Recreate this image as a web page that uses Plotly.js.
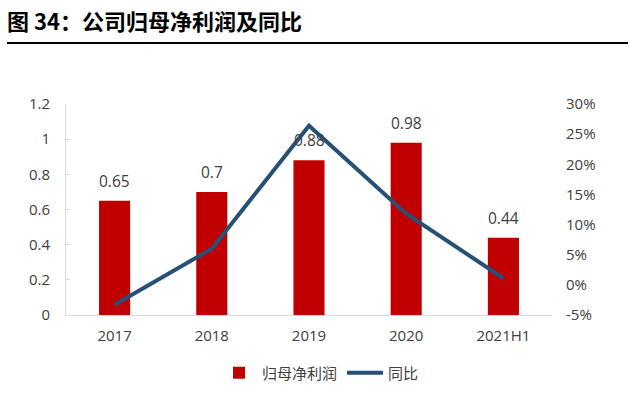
<!DOCTYPE html>
<html>
<head>
<meta charset="utf-8">
<script src="https://cdn.plot.ly/plotly-3.0.1.min.js"></script>
<style>html,body{margin:0;padding:0;background:#fff;}#chart{width:640px;height:410px;}</style>
</head>
<body>
<div id="chart"></div>
<script>
const categories = ['2017', '2018', '2019', '2020', '2021H1'];
const netProfit = [0.65, 0.7, 0.88, 0.98, 0.44];
const yoyGrowth = [-0.033, 0.06, 0.264, 0.118, 0.011];
const profitLabels = ['0.65', '0.7', '0.88', '0.98', '0.44'];
const leftTickVals = [0, 0.2, 0.4, 0.6, 0.8, 1, 1.2];
const leftTickText = ['0', '0.2', '0.4', '0.6', '0.8', '1', '1.2'];
const rightTickVals = [-0.05, 0, 0.05, 0.10, 0.15, 0.20, 0.25, 0.30];
const rightTickText = ['-5%', '0%', '5%', '10%', '15%', '20%', '25%', '30%'];
const seriesNames = ['归母净利润', '同比'];
const chartTitle = '图 34：公司归母净利润及同比';

const FONT = '"Open Sans", "Noto Sans CJK SC", sans-serif';
const TXT = '#404040';

const traces = [
  {
    type: 'bar', x: categories, y: netProfit, name: seriesNames[0],
    marker: {color: '#C00000'}, hoverinfo: 'none'
  },
  {
    type: 'scatter', mode: 'lines', x: categories, y: yoyGrowth, name: seriesNames[1],
    yaxis: 'y2', line: {color: '#275077', width: 4}, hoverinfo: 'none'
  }
];

const annotations = categories.map((c, i) => ({
  x: i, y: netProfit[i], xref: 'x', yref: 'y', text: profitLabels[i],
  showarrow: false, yshift: 20, font: {family: FONT, size: 15.5, color: TXT}
}));

const layout = {
  width: 640, height: 410,
  margin: {l: 66, r: 88, t: 104, b: 95},
  paper_bgcolor: '#fff', plot_bgcolor: '#fff',
  font: {family: FONT, size: 15, color: TXT},
  title: {
    text: '<b>' + chartTitle + '</b>',
    x: 7 / 640, xanchor: 'left', xref: 'container',
    y: 1 - 22 / 410, yanchor: 'middle', yref: 'container',
    font: {family: '"Noto Sans CJK SC", sans-serif', size: 22, color: '#000'}
  },
  bargap: 0.68,
  showlegend: true,
  legend: {
    orientation: 'h', xref: 'container', yref: 'container',
    x: 0.5, xanchor: 'center', y: 1 - 373 / 410, yanchor: 'middle',
    font: {family: FONT, size: 15, color: TXT}, traceorder: 'normal', itemwidth: 36
  },
  xaxis: {
    type: 'category', categoryarray: categories, range: [-0.5, categories.length - 0.5],
    showline: true, linecolor: '#d9d9d9', linewidth: 1,
    ticks: '', showgrid: false, zeroline: false, ticklabelstandoff: 7,
    tickfont: {family: FONT, size: 15, color: TXT}
  },
  yaxis: {
    range: [0, 1.2], tickmode: 'array', tickvals: leftTickVals, ticktext: leftTickText,
    showline: true, linecolor: '#d9d9d9', linewidth: 1,
    ticks: 'inside', ticklen: 4, tickcolor: '#d9d9d9', showgrid: false, zeroline: false,
    ticklabelstandoff: 12, tickfont: {family: FONT, size: 15, color: TXT}
  },
  yaxis2: {
    range: [-0.05, 0.30], tickmode: 'array', tickvals: rightTickVals, ticktext: rightTickText,
    overlaying: 'y', side: 'right',
    showline: false, showgrid: false, zeroline: false, ticks: '',
    ticklabelstandoff: 13, tickfont: {family: FONT, size: 15, color: TXT}
  },
  annotations: annotations,
  shapes: [{
    type: 'line', xref: 'paper', yref: 'paper',
    x0: (7 - 66) / 486, x1: (628 - 66) / 486,
    y0: (315 - 43) / 211, y1: (315 - 43) / 211,
    line: {color: '#000', width: 2}
  }]
};

Plotly.newPlot('chart', traces, layout, {displayModeBar: false, staticPlot: true});
</script>
</body>
</html>
